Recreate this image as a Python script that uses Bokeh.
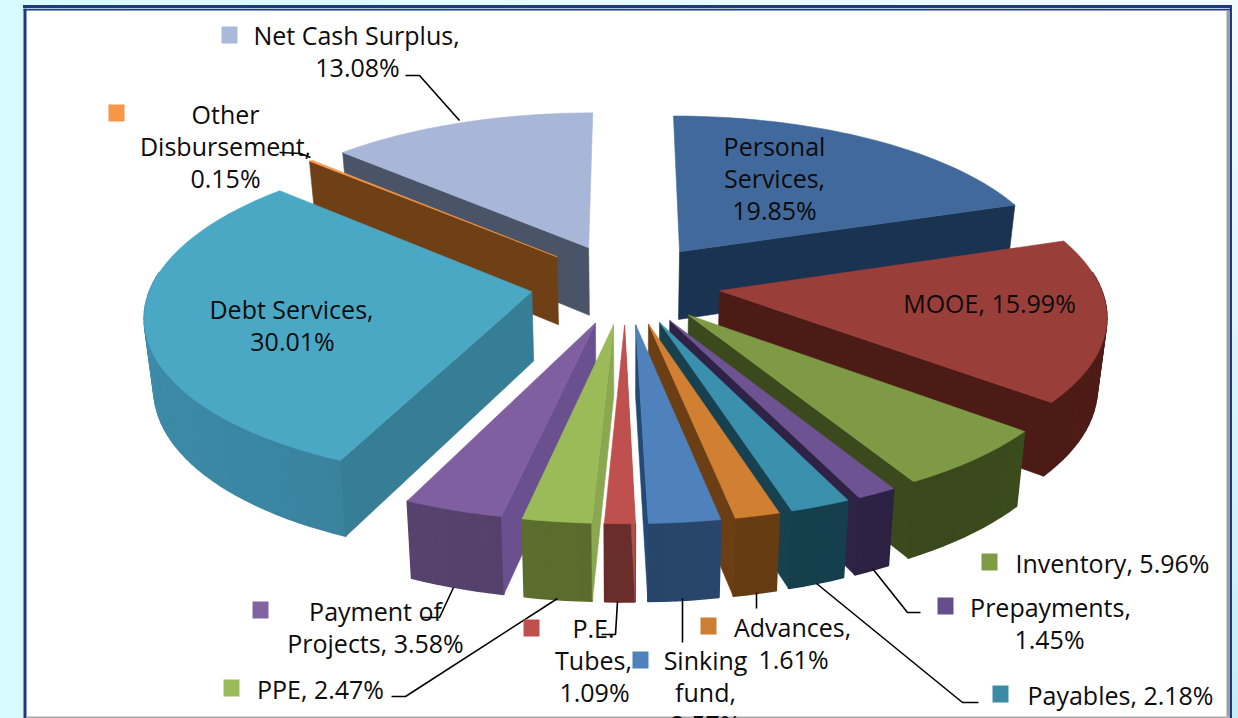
import math
from bokeh.plotting import figure
from bokeh.models import Range1d
from bokeh.core.properties import value
from bokeh.embed import file_html
from bokeh.resources import INLINE

# ---- data ----
categories = ["Personal Services", "MOOE", "Inventory", "Prepayments", "Payables", "Advances",
              "Sinking fund", "P.E. Tubes", "PPE", "Payment of Projects", "Debt Services",
              "Other Disbursement", "Net Cash Surplus"]
shares = [19.85, 15.99, 5.96, 1.45, 2.18, 1.61, 2.57, 1.09, 2.47, 3.58, 30.01, 0.15, 13.08]
top_colors = ["#41699b", "#9a3e3a", "#7f9a45", "#6e5393", "#3a90ad", "#d17f32", "#4f81bd",
              "#c0504d", "#9bbb59", "#7f5fa0", "#4aa8c5", "#f79646", "#a8b7d8"]
outer_colors = ["#1a3350", "#4c1b16", "#3a4a1c", "#2e2345", "#17414f", "#6b3f13", "#2a4a70",
                "#70302e", "#5f7330", "#584470", "#3b86a2", "#6f4016", "#4a5468"]
radial_colors = ["#1a3350", "#4c1b16", "#3a4a1c", "#2e2345", "#17414f", "#6b3f13", "#234a74",
                 "#b0504c", "#8ba74f", "#6b5090", "#367d96", "#6f4016", "#4a5468"]
key_colors = ["#a9b9d9", "#f79646", "#7f9b45", "#664e8c", "#3b8ba6", "#cc7e33", "#4f81bd",
              "#c0504d", "#8064a2", "#9bbb59"]

# label text, one entry per rendered line: (text, centre x, centre y)
label_lines = [
    ("Net Cash Surplus,", 356, 35), ("13.08%", 357, 67),
    ("Other", 225, 114), ("Disbursement,", 225, 146), ("0.15%", 225, 178),
    ("Personal", 774, 146), ("Services,", 774, 178), ("19.85%", 774, 210),
    ("MOOE, 15.99%", 989, 303),
    ("Debt Services,", 291, 309), ("30.01%", 292, 341),
    ("Inventory, 5.96%", 1112, 563),
    ("Prepayments,", 1050, 607), ("1.45%", 1049, 639),
    ("Payables, 2.18%", 1120, 695),
    ("Advances,", 792, 627), ("1.61%", 793, 659),
    ("Sinking", 705, 660), ("fund,", 705, 692), ("2.57%", 705, 724),
    ("P.E.", 593, 628), ("Tubes,", 593, 660), ("1.09%", 594, 692),
    ("Payment of", 375, 611), ("Projects, 3.58%", 375, 643),
    ("PPE, 2.47%", 320, 689),
]
key_x = [221, 108, 981, 937, 992, 700, 632, 523, 252, 223]
key_y = [26, 104, 553, 597, 685, 617, 651, 619, 601, 679]
leaders = [
    ([405, 419, 459], [75, 75, 120]),
    ([279, 300, 310], [152, 153, 157]),
    ([453, 439, 421], [587, 617, 617]),
    ([557, 405, 391], [598, 696, 696]),
    ([617, 615, 601], [601, 634, 634]),
    ([682, 682], [598, 642]),
    ([756, 756], [592, 608]),
    ([816, 962, 978], [583, 702, 702]),
    ([872, 907, 920], [568, 612, 612]),
]

# ---- projection of the exploded pie ----
CX, CY, AX, BY, PERSP, EXPLODE = 625.0, 283.0, 380.0, 161.0, 0.13, 0.25
BASE_SCALE = 0.98


def top(X, Y):
    w = 1 + PERSP * Y
    return CX + AX * X / w, CY - BY * Y / w, w


def bottom(X, Y):
    x, y, w = top(X, Y)
    return CX + (x - CX) * BASE_SCALE, y + 22 + 47 / w


def shade(col, f):
    r, g, b = int(col[1:3], 16), int(col[3:5], 16), int(col[5:7], 16)
    return "#%02x%02x%02x" % tuple(min(255, int(c * f)) for c in (r, g, b))


p = figure(width=1222, height=710, x_range=Range1d(8, 1230), y_range=Range1d(718, 8),
           output_backend="svg", toolbar_location=None, min_border=0,
           background_fill_color=None, border_fill_color=None, outline_line_color=None)
p.axis.visible = False
p.grid.visible = False

# frame
p.quad(left=[24], right=[1229], top=[10], bottom=[717], fill_color="#ffffff",
       line_color=None)
p.quad(left=[23], right=[26], top=[8], bottom=[718], fill_color="#1f3a80", line_color=None)
p.quad(left=[23], right=[1231], top=[8], bottom=[10], fill_color="#1f3a80", line_color=None)
p.quad(left=[1229], right=[1231], top=[8], bottom=[718], fill_color="#1f3a80", line_color=None)
p.quad(left=[1226], right=[1229], top=[10], bottom=[716], fill_color="#9a9ea6", line_color=None)
p.quad(left=[26], right=[1229], top=[716], bottom=[718], fill_color="#a8a8a8", line_color=None)

# wedges
total = sum(shares)
spans = []
acc = 0.0
for s in shares:
    spans.append((acc / total * 2 * math.pi, (acc + s) / total * 2 * math.pi))
    acc += s

order = [12, 0, 11, 10, 1, 2, 3, 4, 5, 6, 7, 9, 8]
for i in order:
    a1, a2 = spans[i]
    m = (a1 + a2) / 2
    ax, ay = EXPLODE * math.sin(m), EXPLODE * math.cos(m)
    n = max(2, int((a2 - a1) / math.radians(2)) + 1)
    arc = [a1 + (a2 - a1) * k / n for k in range(n + 1)]
    gx = [ax + math.sin(t) for t in arc]
    gy = [ay + math.cos(t) for t in arc]
    # outer wall: only the part of the rim that faces the viewer, with shading round the rim
    front = [k for k in range(n) if math.cos(arc[k]) < 0.12]
    if front:
        for k in front:
            xa, ya, _ = top(gx[k], gy[k])
            xb, yb, _ = top(gx[k + 1], gy[k + 1])
            xc, yc = bottom(gx[k + 1], gy[k + 1])
            xd, yd = bottom(gx[k], gy[k])
            col = shade(outer_colors[i], 0.94 + 0.1 * abs(math.sin((arc[k] + arc[k + 1]) / 2)))
            p.patch([xa, xb, xc, xd], [ya, yb, yc, yd], fill_color=col, line_color=col,
                    line_width=1.6)
    # the radial wall that faces the viewer
    gxe, gye = (gx[-1], gy[-1]) if m < math.pi else (gx[0], gy[0])
    xa, ya, _ = top(ax, ay)
    xb, yb, _ = top(gxe, gye)
    xc, yc = bottom(gxe, gye)
    xd, yd = bottom(ax, ay)
    p.patch([xa, xb, xc, xd], [ya, yb, yc, yd], fill_color=radial_colors[i],
            line_color=radial_colors[i], line_width=0.6)
    # top face
    xs, ys = [top(ax, ay)[0]], [top(ax, ay)[1]]
    for X, Y in zip(gx, gy):
        x, y, _ = top(X, Y)
        xs.append(x)
        ys.append(y)
    p.patch(xs, ys, fill_color=top_colors[i], line_color=top_colors[i], line_width=0.6)

# leader lines
for lx, ly in leaders:
    p.line(lx, ly, line_color="#000000", line_width=1.6)

# legend keys
p.quad(left=key_x, right=[x + 16 for x in key_x], top=key_y, bottom=[y + 17 for y in key_y],
       fill_color=key_colors, line_color=None)

# labels
p.text(x=[l[1] for l in label_lines], y=[l[2] - 1 for l in label_lines],
       text=[l[0] for l in label_lines], text_font=value("Open Sans"), text_font_size="25px",
       text_align="center", text_baseline="middle", text_color="#0c0c0c")

html = file_html(p, INLINE)
style = ("<style>html,body{overflow:hidden;margin:0}"
         "body{padding:8px 8px 0 8px;background:"
         "linear-gradient(#1f3a80,#1f3a80) 23px 5px/1208px 3px no-repeat,"
         "linear-gradient(#1f3a80,#1f3a80) 1230px 5px/2px 713px no-repeat,"
         "linear-gradient(#f0fbff,#c5edf5) right top/6px 100% no-repeat,"
         "linear-gradient(90deg,#d8fbff,#e6fbff 50%,#f0fbff);}"
         "</style>")
html = html.replace("</head>", style + "</head>", 1)
open("out.html", "w").write(html)
